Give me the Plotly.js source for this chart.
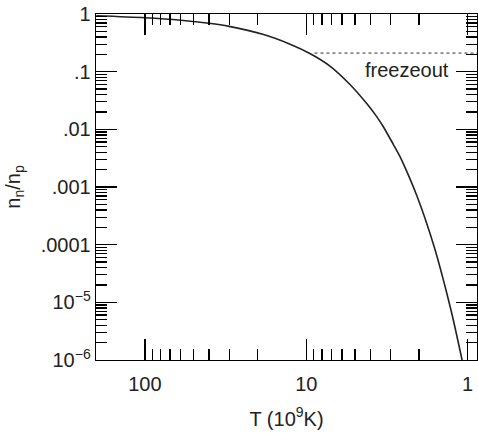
<!DOCTYPE html>
<html>
<head>
<meta charset="utf-8">
<script src="https://cdn.plot.ly/plotly-3.0.1.min.js"></script>
<style>html,body{margin:0;padding:0;background:#fff;}#chart{width:478px;height:434px;}</style>
</head>
<body>
<div id="chart"></div>
<script>
// Temperature (10^9 K) and neutron/proton ratio
const temperature = [200, 100, 60, 40, 30.1, 18.6, 12.6, 9.5, 7.1, 5.36, 4.22, 3.66, 3.33, 2.89, 2.63, 2.28, 2.07, 1.84, 1.59, 1.45, 1.35, 1.23, 1.065];
const ratio = [0.93, 0.86, 0.78, 0.69, 0.61, 0.445, 0.30, 0.207, 0.124, 0.06, 0.028, 0.0166, 0.0111, 0.0055, 0.0034, 0.0014, 0.00072, 0.00029, 0.000081, 0.000032, 0.0000148, 0.0000051, 0.00000081];

// Freezeout level (dotted)
const freezeT = [8.9, 0.8];
const freezeRatio = [0.21, 0.21];

// Tick labels
const xTickVals = [1, 10, 100];
const xTickText = ['1', '10', '100'];
const xMinorVals = [2,3,4,5,6,7,8,9,20,30,40,50,60,70,80,90,200];
const yTickVals = [1, 0.1, 0.01, 0.001, 0.0001, 0.00001, 0.000001];
const yTickText = ['1', '.1', '.01', '.001', '.0001', '10<sup>\u22125</sup>', '10<sup>\u22126</sup>'];
const yMinorVals = [];
[1e-6,1e-5,1e-4,1e-3,1e-2,1e-1].forEach(d => { for (let k = 2; k <= 9; k++) yMinorVals.push(d * k); });

const font = {family: 'Liberation Sans, Arial, sans-serif', size: 20, color: '#222'};

const traces = [
  {x: temperature, y: ratio, type: 'scatter', mode: 'lines',
   line: {color: '#222', width: 1.6, shape: 'spline', smoothing: 0.8}, hoverinfo: 'skip'},
  {x: freezeT, y: freezeRatio, type: 'scatter', mode: 'lines',
   line: {color: '#888', width: 1.6, dash: 'dot'}, hoverinfo: 'skip'}
];

const axisCommon = {
  type: 'log', showgrid: false, zeroline: false, showline: true,
  linecolor: '#000', linewidth: 1.3, mirror: 'ticks',
  ticks: 'inside', ticklen: 21, tickwidth: 1.3, tickcolor: '#000',
  tickfont: font
};

const layout = {
  width: 478, height: 434,
  margin: {l: 96, r: 1, t: 14, b: 74},
  paper_bgcolor: '#fff', plot_bgcolor: '#fff',
  showlegend: false,
  font: font,
  xaxis: Object.assign({}, axisCommon, {
    range: [Math.log10(201), Math.log10(0.875)],
    tickmode: 'array', tickvals: xTickVals, ticktext: xTickText,
    ticklabelstandoff: 6,
    minor: {tickmode: 'array', tickvals: xMinorVals, ticks: 'inside', ticklen: 11, tickwidth: 1.3, tickcolor: '#000', showgrid: false},
    title: {text: 'T (10<sup>9</sup>K)', font: font, standoff: 17}
  }),
  yaxis: Object.assign({}, axisCommon, {
    range: [-6, 0],
    tickmode: 'array', tickvals: yTickVals, ticktext: yTickText,
    minor: {tickmode: 'array', tickvals: yMinorVals, ticks: 'inside', ticklen: 11, tickwidth: 1.3, tickcolor: '#000', showgrid: false},
    title: {text: 'n<sub>n</sub>/n<sub>p</sub>', font: font, standoff: 14}
  }),
  annotations: [
    {xref: 'paper', yref: 'paper', x: 0.816, y: 0.838, text: 'freezeout',
     showarrow: false, font: {family: font.family, size: 20, color: '#222'}, xanchor: 'center', yanchor: 'middle'}
  ]
};

Plotly.newPlot('chart', traces, layout, {displayModeBar: false, staticPlot: true});
</script>
</body>
</html>
